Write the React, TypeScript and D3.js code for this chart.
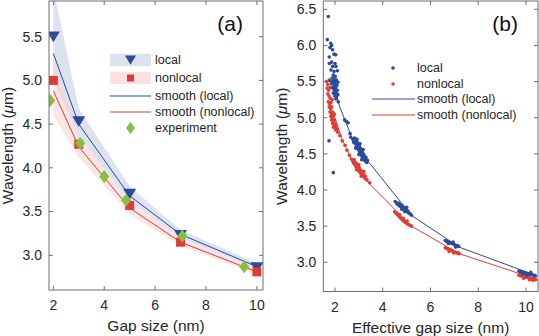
import React from 'react';
import * as d3 from 'd3';

// ---- panel (a) data ----
const gapA = [2, 3, 5, 7, 10];
const localA = [5.5, 4.53, 3.7, 3.23, 2.86];
const nonlocalA = [5.0, 4.27, 3.57, 3.15, 2.81];
const smoothLocalA = [5.31, 4.5, 3.68, 3.24, 2.87];
const smoothNonlocalA = [4.88, 4.24, 3.54, 3.15, 2.81];
const bandLocalUp = [6.05, 4.68, 3.79, 3.29, 2.91];
const bandLocalLo = [5.0, 4.36, 3.62, 3.2, 2.84];
const bandNonlocalUp = [5.25, 4.37, 3.62, 3.2, 2.84];
const bandNonlocalLo = [4.6, 4.12, 3.47, 3.11, 2.78];
const expX = [1.88, 3.05, 4.0, 4.86, 7.07, 9.5];
const expY = [4.77, 4.28, 3.9, 3.63, 3.22, 2.87];

// ---- panel (b) data ----
const localB: [number, number][] = [
  [1.72, 6.4], [1.68, 6.08], [1.82, 6.03], [1.86, 6.0], [1.79, 5.97], [1.9, 5.94], [1.96, 5.88], [2.03, 5.87],
  [1.76, 5.84], [1.86, 5.77], [1.76, 5.75], [2.0, 5.75], [1.9, 5.71], [2.04, 5.71], [1.83, 5.66], [1.96, 5.64],
  [2.1, 5.65], [1.93, 5.59], [2.01, 5.57], [1.88, 5.55], [1.97, 5.53], [2.06, 5.52], [1.8, 5.51], [1.92, 5.5],
  [2.02, 5.49], [2.12, 5.49], [1.86, 5.47], [1.98, 5.46], [2.08, 5.45], [1.95, 5.43], [2.03, 5.42], [1.9, 5.41],
  [2.0, 5.39], [2.1, 5.38], [1.97, 5.37], [2.05, 5.35], [1.93, 5.34], [2.02, 5.33], [2.12, 5.32], [1.99, 5.3],
  [2.07, 5.29], [2.04, 5.26], [2.14, 5.22], [1.75, 4.68], [1.93, 4.24],
  [2.4, 4.97], [2.47, 4.95], [2.55, 4.93], [2.63, 4.78], [2.66, 4.73],
  [2.75, 4.7], [2.78, 4.66], [2.82, 4.72], [2.85, 4.64], [2.88, 4.68], [2.9, 4.6], [2.93, 4.66], [2.95, 4.57],
  [2.97, 4.63], [3.0, 4.55], [3.02, 4.61], [3.04, 4.52], [3.06, 4.58], [3.08, 4.5], [3.1, 4.55], [3.12, 4.47],
  [3.14, 4.53], [3.16, 4.45], [3.18, 4.5], [3.2, 4.42], [3.22, 4.48], [3.25, 4.44], [3.27, 4.4], [3.3, 4.45],
  [3.33, 4.38], [3.36, 4.41], [2.92, 4.7], [3.05, 4.64], [3.18, 4.56], [2.86, 4.58], [3.0, 4.49], [3.12, 4.42],
  [4.52, 3.84], [4.58, 3.82], [4.62, 3.8], [4.66, 3.82], [4.7, 3.78], [4.74, 3.8], [4.78, 3.76], [4.82, 3.78],
  [4.86, 3.74], [4.9, 3.76], [4.94, 3.72], [4.98, 3.73], [5.02, 3.7], [5.06, 3.71], [5.1, 3.68], [5.15, 3.67],
  [5.2, 3.65], [4.8, 3.73], [4.92, 3.7], [5.0, 3.76],
  [6.62, 3.3], [6.68, 3.29], [6.72, 3.28], [6.78, 3.28], [6.82, 3.27], [6.88, 3.26], [6.92, 3.26], [6.98, 3.25],
  [7.02, 3.24], [7.08, 3.23], [7.12, 3.23], [7.18, 3.22], [6.75, 3.26], [6.95, 3.28], [7.05, 3.21],
  [9.7, 2.88], [9.76, 2.87], [9.82, 2.87], [9.88, 2.86], [9.94, 2.85], [10.0, 2.85], [10.06, 2.84], [10.12, 2.84],
  [10.18, 2.83], [10.24, 2.83], [10.3, 2.82], [10.36, 2.82], [10.4, 2.81], [9.85, 2.84], [10.05, 2.82], [10.2, 2.86],
];
const nonlocalB: [number, number][] = [
  [1.65, 5.5], [1.7, 5.46], [1.67, 5.41], [1.73, 5.38], [1.76, 5.52], [1.7, 5.33], [1.75, 5.3], [1.8, 5.27],
  [1.72, 5.22], [1.78, 5.19], [1.83, 5.21], [1.76, 5.15], [1.82, 5.12], [1.86, 5.15], [1.79, 5.08], [1.85, 5.06],
  [1.9, 5.08], [1.83, 5.02], [1.88, 5.0], [1.93, 5.02], [1.86, 4.97], [1.92, 4.95], [1.97, 4.97], [1.9, 4.92],
  [1.96, 4.9], [2.01, 4.92], [1.94, 4.87], [2.0, 4.86], [2.05, 4.88], [2.03, 4.83], [2.08, 4.84], [2.12, 4.8],
  [1.98, 5.05], [1.88, 5.25], [1.8, 5.42], [2.2, 4.75],
  [2.3, 4.68], [2.42, 4.62], [2.5, 4.55], [2.6, 4.48], [2.68, 4.43],
  [2.74, 4.4], [2.78, 4.37], [2.8, 4.42], [2.83, 4.35], [2.86, 4.38], [2.88, 4.32], [2.91, 4.36], [2.93, 4.3],
  [2.96, 4.33], [2.98, 4.27], [3.01, 4.31], [3.03, 4.25], [3.06, 4.28], [3.08, 4.23], [3.11, 4.26], [3.13, 4.21],
  [3.16, 4.24], [3.18, 4.19], [3.21, 4.22], [3.24, 4.17], [3.27, 4.19], [3.3, 4.15], [3.34, 4.14], [2.9, 4.28],
  [3.0, 4.35], [3.1, 4.19], [3.2, 4.26], [3.45, 4.1],
  [4.5, 3.7], [4.55, 3.68], [4.6, 3.67], [4.64, 3.65], [4.68, 3.64], [4.72, 3.62], [4.76, 3.61], [4.8, 3.6],
  [4.84, 3.58], [4.88, 3.57], [4.92, 3.56], [4.96, 3.55], [5.0, 3.54], [5.05, 3.53], [5.1, 3.52], [5.16, 3.51],
  [5.2, 3.5], [4.7, 3.66], [4.86, 3.61], [5.02, 3.57],
  [6.62, 3.2], [6.68, 3.19], [6.74, 3.18], [6.8, 3.17], [6.86, 3.17], [6.92, 3.16], [6.98, 3.15], [7.04, 3.14],
  [7.1, 3.13], [7.16, 3.13], [7.2, 3.12], [6.78, 3.15], [6.96, 3.13],
  [9.7, 2.82], [9.78, 2.81], [9.86, 2.81], [9.94, 2.8], [10.02, 2.79], [10.1, 2.79], [10.18, 2.78], [10.26, 2.77],
  [10.34, 2.77], [10.4, 2.76], [9.9, 2.78], [10.15, 2.76], [10.3, 2.75],
];
const smoothLocalBX = [2.0, 2.2, 2.5, 2.8, 3.3, 3.5, 5.2, 7.2, 10.4];
const smoothLocalBY = [5.38, 5.15, 4.9, 4.65, 4.42, 4.35, 3.65, 3.21, 2.82];
const smoothNonlocalBX = [2.0, 2.3, 2.8, 3.4, 5.2, 7.2, 10.4];
const smoothNonlocalBY = [5.0, 4.7, 4.35, 4.1, 3.5, 3.12, 2.77];

const xTicks = [2, 4, 6, 8, 10];
const yTicksA = [3.0, 3.5, 4.0, 4.5, 5.0, 5.5];
const yTicksB = [3.0, 3.5, 4.0, 4.5, 5.0, 5.5, 6.0, 6.5];

const BLUE = '#2c4a9a';
const RED = '#e23b35';
const GREEN = '#86c03f';
const FRAME = '#6e6e6e';
const TEXT = '#262626';
const FONT = '"Liberation Sans", Arial, Helvetica, sans-serif';

const Frame = ({ x, y, yTicks, xLabel, tag }: any) => {
  const [x0, x1] = x.range();
  const [y0, y1] = y.range(); // y0 bottom, y1 top
  const tl = 4;
  return (
    <g>
      <rect x={x0} y={y1} width={x1 - x0} height={y0 - y1} fill="none" stroke={FRAME} strokeWidth={1} />
      {xTicks.map(t => (
        <g key={'x' + t}>
          <line x1={x(t)} x2={x(t)} y1={y0} y2={y0 - tl} stroke={FRAME} />
          <line x1={x(t)} x2={x(t)} y1={y1} y2={y1 + tl} stroke={FRAME} />
          <text x={x(t)} y={y0 + 20} textAnchor="middle" fontSize={14} fill={TEXT}>{t}</text>
        </g>
      ))}
      {yTicks.map((t: number) => (
        <g key={'y' + t}>
          <line x1={x0} x2={x0 + tl} y1={y(t)} y2={y(t)} stroke={FRAME} />
          <line x1={x1} x2={x1 - tl} y1={y(t)} y2={y(t)} stroke={FRAME} />
          <text x={x0 - 7} y={y(t)} dy="0.35em" textAnchor="end" fontSize={14} fill={TEXT}>{t.toFixed(1)}</text>
        </g>
      ))}
      <text x={(x0 + x1) / 2} y={y0 + 41} textAnchor="middle" fontSize={15.5} fill={TEXT}>{xLabel}</text>
      <text transform={`translate(${x0 - 36},${(y0 + y1) / 2}) rotate(-90)`} textAnchor="middle" fontSize={15.5} fill={TEXT}>
        Wavelength (<tspan fontStyle="italic">μ</tspan>m)
      </text>
      <text x={x1 - 20} y={y1 + 30} textAnchor="end" fontSize={21} fill="#111">{tag}</text>
    </g>
  );
};

const triangle = (cx: number, cy: number, s: number) =>
  `M${cx - s},${cy - s * 0.8}L${cx + s},${cy - s * 0.8}L${cx},${cy + s * 0.85}Z`;
const diamond = (cx: number, cy: number, w: number, h: number) =>
  `M${cx},${cy - h}L${cx + w},${cy}L${cx},${cy + h}L${cx - w},${cy}Z`;

const PanelA = () => {
  const x = d3.scaleLinear().domain([1.83, 10.24]).range([49, 263]);
  const y = d3.scaleLinear().domain([2.603, 5.908]).range([290, 1]);
  const idx = gapA.map((_, i) => i);
  const area = (up: number[], lo: number[]) =>
    d3.area<number>().x(i => x(gapA[i])).y0(i => y(lo[i])).y1(i => y(up[i]))(idx) || '';
  const line = (vals: number[]) => d3.line<number>().x(i => x(gapA[i])).y(i => y(vals[i]))(idx) || '';
  const lx = 110, lw = 41;
  const rows = [60, 78, 96, 112, 128];
  return (
    <g>
      <defs>
        <clipPath id="clipA"><rect x={49} y={1} width={214} height={289} /></clipPath>
      </defs>
      <g clipPath="url(#clipA)">
        <path d={area(bandLocalUp, bandLocalLo)} fill="#cdd5e8" fillOpacity={0.7} />
        <path d={area(bandNonlocalUp, bandNonlocalLo)} fill="#f9d4d4" fillOpacity={0.6} />
        <path d={line(smoothLocalA)} fill="none" stroke={BLUE} strokeWidth={1} />
        <path d={line(smoothNonlocalA)} fill="none" stroke={RED} strokeWidth={1} />
        {gapA.map((g, i) => (
          <path key={'t' + i} d={triangle(x(g), y(localA[i]), 6.5)} fill={BLUE} />
        ))}
        {gapA.map((g, i) => (
          <rect key={'s' + i} x={x(g) - 4.5} y={y(nonlocalA[i]) - 4.5} width={9} height={9} fill={RED} />
        ))}
        {expX.map((g, i) => (
          <path key={'d' + i} d={diamond(x(g), y(expY[i]), 5, 6.5)} fill={GREEN} />
        ))}
      </g>
      {/* legend */}
      <rect x={lx} y={rows[0] - 6} width={lw} height={12} fill="#dde2ef" />
      <path d={triangle(lx + lw / 2, rows[0], 5.5)} fill={BLUE} />
      <rect x={lx} y={rows[1] - 6} width={lw} height={12} fill="#fbe1e2" />
      <rect x={lx + lw / 2 - 3.5} y={rows[1] - 3.5} width={7} height={7} fill={RED} />
      <line x1={lx} x2={lx + lw} y1={rows[2]} y2={rows[2]} stroke={BLUE} />
      <line x1={lx} x2={lx + lw} y1={rows[3]} y2={rows[3]} stroke={RED} />
      <path d={diamond(lx + lw / 2, rows[4], 4.5, 6)} fill={GREEN} />
      {['local', 'nonlocal', 'smooth (local)', 'smooth (nonlocal)', 'experiment'].map((t, i) => (
        <text key={t} x={lx + lw + 4} y={rows[i]} dy="0.35em" fontSize={12.5} fill={TEXT}>{t}</text>
      ))}
      <Frame x={x} y={y} yTicks={yTicksA} xLabel="Gap size (nm)" tag="(a)" />
    </g>
  );
};

const PanelB = () => {
  const x = d3.scaleLinear().domain([1.51, 10.503]).range([323.3, 538]);
  const y = d3.scaleLinear().domain([2.596, 6.615]).range([291.5, 1]);
  const line = (xs: number[], ys: number[]) =>
    d3.line<number>().x(i => x(xs[i])).y(i => y(ys[i]))(xs.map((_, i) => i)) || '';
  const rows = [68, 84, 99, 115];
  return (
    <g>
      <defs>
        <clipPath id="clipB"><rect x={323.3} y={1} width={214.7} height={290.5} /></clipPath>
      </defs>
      <g clipPath="url(#clipB)">
        <path d={line(smoothLocalBX, smoothLocalBY)} fill="none" stroke={BLUE} strokeWidth={1} />
        <path d={line(smoothNonlocalBX, smoothNonlocalBY)} fill="none" stroke={RED} strokeWidth={1} />
        {nonlocalB.map((p, i) => (
          <circle key={'r' + i} cx={x(p[0])} cy={y(p[1])} r={1.8} fill={RED} />
        ))}
        {localB.map((p, i) => (
          <circle key={'b' + i} cx={x(p[0])} cy={y(p[1])} r={1.8} fill={BLUE} />
        ))}
      </g>
      {/* legend */}
      <circle cx={393} cy={rows[0]} r={1.8} fill={BLUE} />
      <circle cx={393} cy={rows[1]} r={1.8} fill={RED} />
      <line x1={372} x2={415} y1={rows[2]} y2={rows[2]} stroke={BLUE} />
      <line x1={372} x2={415} y1={rows[3]} y2={rows[3]} stroke={RED} />
      {['local', 'nonlocal', 'smooth (local)', 'smooth (nonlocal)'].map((t, i) => (
        <text key={t} x={417} y={rows[i]} dy="0.35em" fontSize={12.5} fill={TEXT}>{t}</text>
      ))}
      <Frame x={x} y={y} yTicks={yTicksB} xLabel="Effective gap size (nm)" tag="(b)" />
    </g>
  );
};

const App = () => {
  return (
    <svg width={539} height={336} style={{ position: 'absolute', left: 0, top: 0, background: '#fff' }} fontFamily={FONT}>
      <PanelA />
      <PanelB />
    </svg>
  );
};

export default App;
